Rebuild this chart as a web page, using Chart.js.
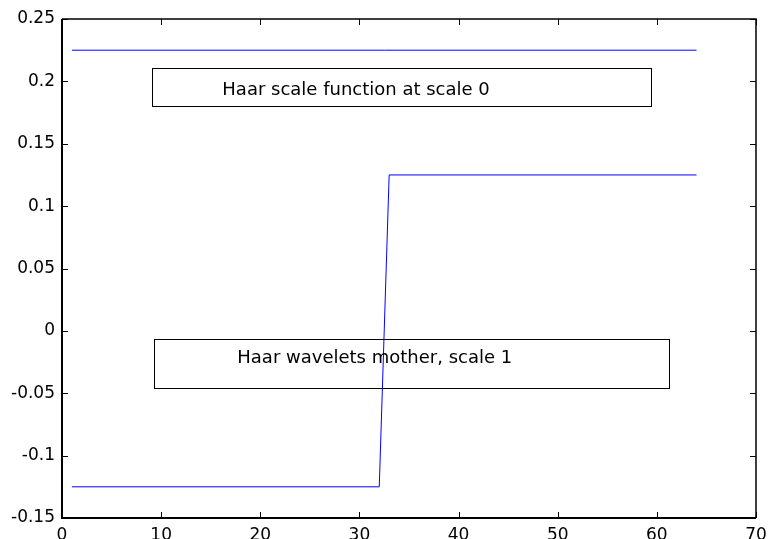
<!DOCTYPE html>
<html>
<head>
<meta charset="utf-8">
<style>
  html, body { margin: 0; padding: 0; background: #ffffff; }
  #plot { display: block; }
</style>
<script src="https://cdn.jsdelivr.net/npm/chart.js@4/dist/chart.umd.min.js"></script>
</head>
<body>
<canvas id="plot" width="769" height="539"></canvas>
<script>
// Haar scaling function (scale 0) and Haar mother wavelet (scale 1), sampled on n = 1..64
const scaleX = [1, 64];
const scaleY = [0.225, 0.225];

const waveX = [1, 32, 33, 64];
const waveY = [-0.125, -0.125, 0.125, 0.125];

// Axis ranges and tick steps
const xRange = [0, 70];
const xStep = 10;
const yRange = [-0.15, 0.25];
const yStep = 0.05;

// Boxed text annotations, placed in data coordinates
const noteTexts = ['Haar scale function at scale 0', 'Haar wavelets mother, scale 1'];
const noteBoxX = [[9.05, 59.4], [9.28, 61.2]];
const noteBoxY = [[0.2105, 0.1803], [-0.0065, -0.0458]];
const noteTextAt = [[16.17, 0.1891], [17.68, -0.0258]];

function toPoints(xs, ys) {
  return xs.map((x, i) => ({ x: x, y: ys[i] }));
}

const FONT = 'DejaVu Sans';

// Axes box with inward tick marks on all four sides, plus text boxes
const framePlugin = {
  id: 'frame',
  afterDatasetsDraw(chart) {
    const { ctx, chartArea: a, scales } = chart;
    const xs = scales.x, ys = scales.y;
    const tl = 6;
    ctx.save();
    ctx.strokeStyle = '#000000';

    // ticks
    ctx.lineWidth = 1;
    ctx.beginPath();
    xs.ticks.forEach(t => {
      const px = Math.round(xs.getPixelForValue(t.value)) + 0.5;
      ctx.moveTo(px, a.bottom); ctx.lineTo(px, a.bottom - tl);
      ctx.moveTo(px, a.top); ctx.lineTo(px, a.top + tl);
    });
    ys.ticks.forEach(t => {
      const py = Math.round(ys.getPixelForValue(t.value)) + 0.5;
      ctx.moveTo(a.left, py); ctx.lineTo(a.left + tl, py);
      ctx.moveTo(a.right, py); ctx.lineTo(a.right - tl, py);
    });
    ctx.stroke();

    // axes box
    ctx.lineWidth = 1.5;
    ctx.beginPath();
    ctx.moveTo(a.left, a.top); ctx.lineTo(a.right, a.top); ctx.lineTo(a.right, a.bottom);
    ctx.stroke();
    ctx.lineWidth = 2;
    ctx.beginPath();
    ctx.moveTo(a.left, a.top); ctx.lineTo(a.left, a.bottom); ctx.lineTo(a.right, a.bottom);
    ctx.stroke();

    // annotations
    ctx.lineWidth = 1;
    ctx.font = '18px "' + FONT + '"';
    ctx.fillStyle = '#000000';
    ctx.textAlign = 'left';
    ctx.textBaseline = 'alphabetic';
    noteTexts.forEach((txt, i) => {
      const x0 = Math.round(xs.getPixelForValue(noteBoxX[i][0])) + 0.5;
      const x1 = Math.round(xs.getPixelForValue(noteBoxX[i][1])) + 0.5;
      const y0 = Math.round(ys.getPixelForValue(noteBoxY[i][0])) + 0.5;
      const y1 = Math.round(ys.getPixelForValue(noteBoxY[i][1])) + 0.5;
      ctx.strokeRect(x0, y0, x1 - x0, y1 - y0);
      ctx.fillText(txt, xs.getPixelForValue(noteTextAt[i][0]), ys.getPixelForValue(noteTextAt[i][1]));
    });
    ctx.restore();
  }
};

new Chart(document.getElementById('plot'), {
  type: 'line',
  data: {
    datasets: [
      {
        label: 'scale function',
        data: toPoints(scaleX, scaleY),
        borderColor: '#0000ff',
        borderWidth: 1,
        pointRadius: 0,
        tension: 0,
        fill: false
      },
      {
        label: 'mother wavelet',
        data: toPoints(waveX, waveY),
        borderColor: '#0000ff',
        borderWidth: 1,
        pointRadius: 0,
        tension: 0,
        fill: false
      }
    ]
  },
  options: {
    responsive: false,
    animation: false,
    events: [],
    layout: { padding: { top: 19, right: 13, left: 0, bottom: 0 } },
    plugins: {
      legend: { display: false },
      tooltip: { enabled: false },
      title: { display: false }
    },
    scales: {
      x: {
        type: 'linear',
        min: xRange[0],
        max: xRange[1],
        grid: { display: false, drawTicks: false },
        border: { display: false },
        ticks: {
          stepSize: xStep,
          padding: 7,
          maxRotation: 0,
          color: '#000000',
          font: { family: FONT, size: 17 }
        },
        afterFit(scale) {
          scale.height = 21;
          scale.paddingLeft = 0;
          scale.paddingRight = 0;
        }
      },
      y: {
        type: 'linear',
        min: yRange[0],
        max: yRange[1],
        grid: { display: false, drawTicks: false },
        border: { display: false },
        ticks: {
          stepSize: yStep,
          padding: 7,
          color: '#000000',
          font: { family: FONT, size: 17 },
          callback: v => String(Number(v.toFixed(2)))
        },
        afterFit(scale) {
          scale.width = 62;
          scale.paddingTop = 0;
          scale.paddingBottom = 0;
        }
      }
    }
  },
  plugins: [framePlugin]
});
</script>
</body>
</html>
